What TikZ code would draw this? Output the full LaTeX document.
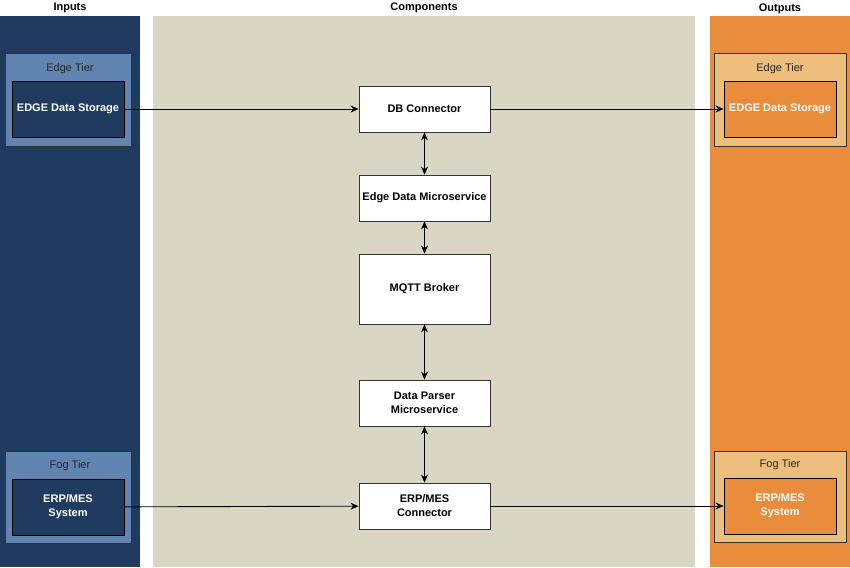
\documentclass[tikz,border=0pt]{standalone}
\usepackage{fontspec}
\setmainfont{Liberation Sans}
\usetikzlibrary{arrows.meta}

\definecolor{navy}{HTML}{1F3B5F}
\definecolor{tierblue}{HTML}{6284B1}
\definecolor{beige}{HTML}{D9D6C3}
\definecolor{orange}{HTML}{E98C3B}
\definecolor{tan}{HTML}{EDBE7C}

\begin{document}
\begin{tikzpicture}[x=1pt,y=-1pt,line width=0.9pt,
    title/.style={font=\fontsize{11}{13}\selectfont\bfseries},
    tierbox/.style={draw=black!80,minimum width=126pt,minimum height=93pt,anchor=north west},
    tierlabel/.style={font=\fontsize{11}{13}\selectfont,text=black!85},
    storebox/.style={draw=black,minimum width=112pt,minimum height=56pt,text=white,
      align=center,font=\fontsize{11}{14}\selectfont\bfseries},
    compbox/.style={draw=black!80,fill=white,minimum width=131pt,minimum height=46pt,
      align=center,font=\fontsize{11}{14}\selectfont\bfseries},
    flow/.style={-{Stealth[length=8pt,width=7pt]}},
    both/.style={{Stealth[length=8pt,width=7pt]}-{Stealth[length=8pt,width=7pt]}}]
  \useasboundingbox (0,0) rectangle (850,567);
  \fill[white] (0,0) rectangle (850,567);
  % columns
  \fill[navy] (0,16) rectangle (140,567);
  \fill[beige] (153,16) rectangle (695,567);
  \fill[orange] (710,16) rectangle (850,567);
  \node[title] (inputs) at (70,8) {Inputs};
  \node[title] (components) at (424,8) {Components};
  \node[title] (outputs) at (780,9) {Outputs};

  % inputs
  \node[tierbox,fill=tierblue] (edgein) at (5,53) {};
  \node[tierlabel] at (70,69) {Edge Tier};
  \node[storebox,fill=navy] (storein) at (68,109) {EDGE Data Storage};
  \node[tierbox,fill=tierblue,minimum height=92pt] (fogin) at (5,451) {};
  \node[tierlabel] at (70,466) {Fog Tier};
  \node[storebox,fill=navy] (erpin) at (68,507) {ERP/MES\\System};

  % outputs
  \node[tierbox,fill=tan,minimum width=132pt] (edgeout) at (714,53) {};
  \node[tierlabel] at (780,69) {Edge Tier};
  \node[storebox,fill=orange] (storeout) at (780,109) {EDGE Data Storage};
  \node[tierbox,fill=tan,minimum width=132pt,minimum height=91pt] (fogout) at (714,451) {};
  \node[tierlabel] at (780,465) {Fog Tier};
  \node[storebox,fill=orange] (erpout) at (780,506) {ERP/MES\\System};

  % components
  \node[compbox] (dbconn) at (424.5,109) {DB Connector};
  \node[compbox] (edgems) at (424.5,198) {Edge Data Microservice};
  \node[compbox,minimum height=70pt] (mqtt) at (424.5,289) {MQTT Broker};
  \node[compbox] (parser) at (424.5,403) {Data Parser\\Microservice};
  \node[compbox] (erpconn) at (424.5,506) {ERP/MES\\Connector};

  \draw[flow] (storein) -- (dbconn);
  \draw[flow] (dbconn) -- (storeout);
  \draw[flow] (erpin) -- (erpconn);
  \draw[flow] (erpconn) -- (erpout);
  \draw[both] (dbconn) -- (edgems);
  \draw[both] (edgems) -- (mqtt);
  \draw[both] (mqtt) -- (parser);
  \draw[both] (parser) -- (erpconn);
\end{tikzpicture}
\end{document}
